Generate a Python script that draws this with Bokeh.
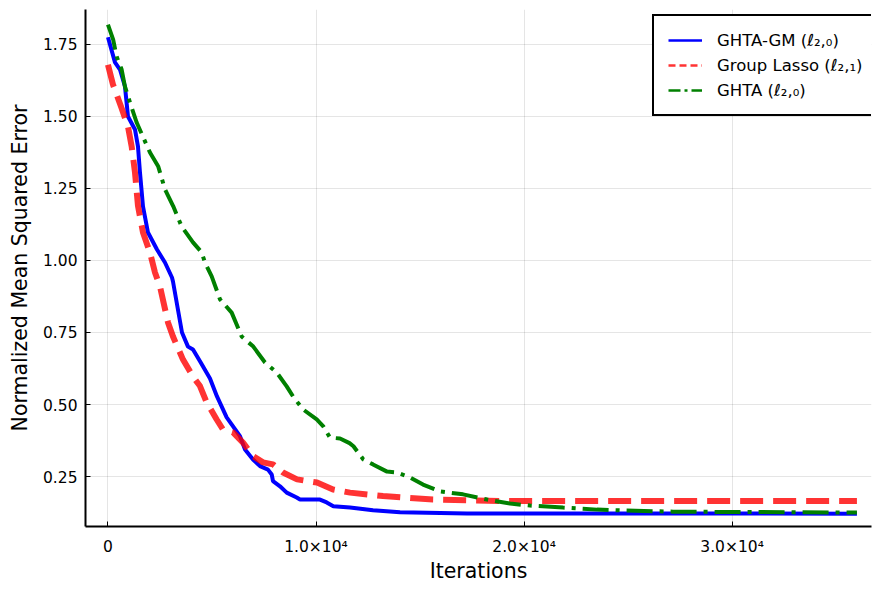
from bokeh.plotting import figure
from bokeh.models import Range1d, FixedTicker, Legend, LegendItem
from bokeh.embed import file_html
from bokeh.resources import INLINE

# ---- data ----
gm_iter = [0, 337, 577, 817, 962, 1298, 1442, 1538, 1683, 1923, 2356, 2740, 3077, 3125, 3558,
           3846, 4087, 4423, 4904, 5240, 5705, 6346, 6587, 6971, 7308, 7692, 7870, 7933, 8269,
           8590, 9071, 9231, 10192, 10513, 10833, 11635, 12740, 14038, 17260, 36000]
gm_nmse = [1.775, 1.688, 1.663, 1.604, 1.500, 1.455, 1.396, 1.306, 1.188, 1.097, 1.038, 0.993,
           0.941, 0.927, 0.750, 0.701, 0.691, 0.650, 0.590, 0.528, 0.455, 0.390, 0.344, 0.309,
           0.286, 0.274, 0.257, 0.234, 0.216, 0.194, 0.177, 0.170, 0.170, 0.160, 0.147, 0.142,
           0.133, 0.126, 0.1215, 0.121]

gl_iter = [0, 240, 644, 962, 1139, 1298, 1442, 1683, 2019, 2260, 2500, 2885, 3125, 3606, 4087,
           4423, 4745, 5226, 5529, 6010, 6490, 6971, 7452, 7933, 8413, 9087, 10048, 10817, 11635,
           13221, 15625, 18846, 36000]
gl_nmse = [1.680, 1.611, 1.531, 1.465, 1.396, 1.306, 1.190, 1.097, 1.028, 0.958, 0.910, 0.785,
           0.736, 0.656, 0.597, 0.564, 0.507, 0.448, 0.413, 0.403, 0.368, 0.321, 0.299, 0.292,
           0.264, 0.240, 0.229, 0.205, 0.194, 0.182, 0.170, 0.165, 0.165]

gh_iter = [0, 250, 418, 658, 817, 1058, 1380, 1697, 2019, 2418, 2740, 3139, 3543, 4087, 4505,
           4663, 4986, 5385, 5946, 6427, 6986, 7548, 8110, 8591, 8894, 9375, 10034, 10351, 10673,
           11154, 11611, 11800, 12275, 12740, 13413, 13894, 14519, 15144, 15962, 17067, 18221,
           19327, 20288, 21875, 23510, 24760, 27163, 29567, 36000]
gh_nmse = [1.819, 1.767, 1.708, 1.663, 1.604, 1.549, 1.479, 1.427, 1.375, 1.326, 1.247, 1.188,
           1.118, 1.063, 1.028, 0.993, 0.945, 0.865, 0.819, 0.736, 0.701, 0.646, 0.611, 0.563,
           0.528, 0.483, 0.448, 0.424, 0.385, 0.382, 0.366, 0.355, 0.309, 0.292, 0.267, 0.264,
           0.247, 0.222, 0.198, 0.188, 0.170, 0.156, 0.149, 0.142, 0.135, 0.132, 0.128, 0.127,
           0.125]

series_labels = ["GHTA-GM (ℓ₂,₀)", "Group Lasso (ℓ₂,₁)", "GHTA (ℓ₂,₀)"]
x_title = "Iterations"
y_title = "Normalized Mean Squared Error"

x_ticks = [0, 10000, 20000, 30000]
x_tick_labels = ["0", "1.0×10⁴", "2.0×10⁴", "3.0×10⁴"]
y_ticks = [0.25, 0.50, 0.75, 1.00, 1.25, 1.50, 1.75]
y_tick_labels = ["0.25", "0.50", "0.75", "1.00", "1.25", "1.50", "1.75"]

FONT = "DejaVu Sans"
NAN = float("nan")

p = figure(width=872, height=587, output_backend="svg", toolbar_location=None,
           x_range=Range1d(-1080, 36700), y_range=Range1d(0.0764, 1.8715),
           min_border_left=85, min_border_right=1, min_border_top=9, min_border_bottom=61,
           x_axis_label=x_title, y_axis_label=y_title)
p.outline_line_color = None
p.background_fill_color = "white"

p.xaxis.ticker = FixedTicker(ticks=x_ticks)
p.yaxis.ticker = FixedTicker(ticks=y_ticks)
p.xaxis.major_label_overrides = dict(zip(x_ticks, x_tick_labels))
p.yaxis.major_label_overrides = dict(zip(y_ticks, y_tick_labels))

for ax in (p.xaxis[0], p.yaxis[0]):
    ax.axis_line_color = "black"
    ax.axis_line_width = 2
    ax.major_tick_in = 5
    ax.major_tick_out = 0
    ax.major_tick_line_color = "black"
    ax.minor_tick_line_color = None
    ax.major_label_text_font = FONT
    ax.major_label_text_font_size = "15.5px"
    ax.major_label_text_color = "black"
    ax.axis_label_text_font = FONT
    ax.axis_label_text_font_size = "20.5px"
    ax.axis_label_text_font_style = "normal"
    ax.axis_label_text_color = "black"

p.xaxis.major_label_standoff = 11
p.xaxis.axis_label_standoff = 0
p.yaxis.major_label_standoff = 8
p.yaxis.axis_label_standoff = 8

p.grid.grid_line_color = "black"
p.grid.grid_line_alpha = 0.1
p.grid.grid_line_width = 1

# data lines
p.line(gm_iter, gm_nmse, line_color="blue", line_width=4)
p.line(gl_iter, gl_nmse, line_color="red", line_alpha=0.8, line_width=6, line_dash="23 10")
p.line(gh_iter, gh_nmse, line_color="green", line_width=4, line_dash="26 7 4 7")

# legend-only renderers (thinner strokes like the reference legend)
lg_gm = p.line([NAN, NAN], [NAN, NAN], line_color="blue", line_width=2.5)
lg_gl = p.line([NAN, NAN], [NAN, NAN], line_color="red", line_alpha=0.8, line_width=2.5,
               line_dash="7 4")
lg_gh = p.line([NAN, NAN], [NAN, NAN], line_color="green", line_width=2.5,
               line_dash="12 4 3 4")

legend = Legend(items=[LegendItem(label=series_labels[0], renderers=[lg_gm]),
                       LegendItem(label=series_labels[1], renderers=[lg_gl]),
                       LegendItem(label=series_labels[2], renderers=[lg_gh])],
                location=(567, 410))
legend.border_line_color = "black"
legend.border_line_width = 2
legend.border_line_alpha = 1
legend.background_fill_color = "white"
legend.background_fill_alpha = 1
legend.label_text_font = FONT
legend.label_text_font_size = "16.5px"
legend.label_text_color = "black"
legend.glyph_width = 34
legend.glyph_height = 20
legend.label_height = 20
legend.label_standoff = 15
legend.spacing = 5
legend.padding = 14
legend.margin = 0
p.add_layout(legend)

open("out.html", "w").write(file_html(p, INLINE))
